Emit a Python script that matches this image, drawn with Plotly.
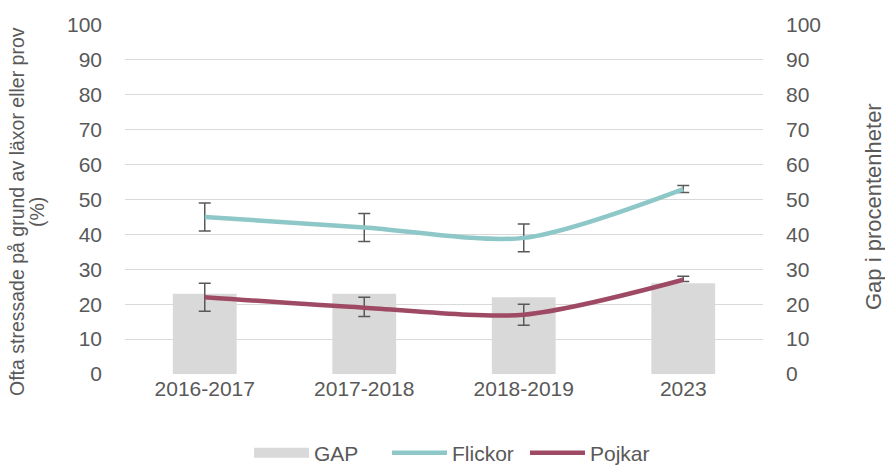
import plotly.graph_objects as go

categories = ["2016-2017", "2017-2018", "2018-2019", "2023"]
gap = [23, 23, 22, 26]
flickor = [45, 42, 39, 53]
flickor_lo = [41, 38, 35, 52]
flickor_hi = [49, 46, 43, 54]
pojkar = [22, 19, 17, 27]
pojkar_lo = [18, 16.5, 14, 26.5]
pojkar_hi = [26, 22, 20, 28]

FONT = "Liberation Sans"
TXT = "#595959"
GRID = "#D9D9D9"
W, H = 885, 466
L, R, T, B = 125, 122, 25, 92
PW, PH = W - L - R, H - T - B


def px(xpage):
    return (xpage - L) / PW


def py(ypage):
    return (H - B - ypage) / PH


fig = go.Figure()
fig.add_trace(go.Bar(
    x=categories, y=gap, name="GAP", yaxis="y", showlegend=False,
    marker=dict(color="#D9D9D9", line=dict(width=0)), width=0.4,
))
fig.add_trace(go.Scatter(
    x=[None], y=[None], name="GAP", mode="lines", yaxis="y2",
    line=dict(color="#D9D9D9", width=12),
))
fig.add_trace(go.Scatter(
    x=categories, y=flickor, name="Flickor", mode="lines", yaxis="y2",
    line=dict(color="#8EC7C7", width=4.5, shape="spline", smoothing=0.8),
    error_y=dict(type="data", symmetric=False,
                 array=[h - v for h, v in zip(flickor_hi, flickor)],
                 arrayminus=[v - l for l, v in zip(flickor_lo, flickor)],
                 color="#595959", thickness=1.5, width=6),
))
fig.add_trace(go.Scatter(
    x=categories, y=pojkar, name="Pojkar", mode="lines", yaxis="y2",
    line=dict(color="#9E4A64", width=4.5, shape="spline", smoothing=0.8),
    error_y=dict(type="data", symmetric=False,
                 array=[h - v for h, v in zip(pojkar_hi, pojkar)],
                 arrayminus=[v - l for l, v in zip(pojkar_lo, pojkar)],
                 color="#595959", thickness=1.5, width=6),
))

fig.update_layout(
    width=W, height=H,
    margin=dict(l=L, r=R, t=T, b=B, autoexpand=False),
    paper_bgcolor="white", plot_bgcolor="white",
    font=dict(family=FONT, size=21, color=TXT),
    showlegend=True,
    legend=dict(orientation="h", x=px(456), xanchor="center", y=py(453), yanchor="middle",
                font=dict(size=21, color=TXT), traceorder="normal", itemwidth=55,
                entrywidth=68, entrywidthmode="pixels",
                bgcolor="rgba(0,0,0,0)"),
    xaxis=dict(showgrid=False, showline=False, ticks="", automargin=False,
               tickfont=dict(size=21, color=TXT)),
    yaxis=dict(range=[0, 100], dtick=10, showgrid=True, gridcolor=GRID,
               gridwidth=1, zeroline=False, ticks="", ticklabelstandoff=22,
               automargin=False, tickfont=dict(size=21, color=TXT)),
    yaxis2=dict(range=[0, 100], dtick=10, overlaying="y", side="right",
                showgrid=False, zeroline=False, ticks="", ticklabelstandoff=22,
                automargin=False, tickfont=dict(size=21, color=TXT)),
    annotations=[
        dict(text="Ofta stressade på grund av läxor eller prov", textangle=-90,
             xref="paper", yref="paper", x=px(17), y=py(212),
             xanchor="center", yanchor="middle", showarrow=False,
             font=dict(size=19.5, color=TXT)),
        dict(text="(%)", textangle=-90,
             xref="paper", yref="paper", x=px(37), y=py(212),
             xanchor="center", yanchor="middle", showarrow=False,
             font=dict(size=19.5, color=TXT)),
        dict(text="Gap i procentenheter", textangle=-90,
             xref="paper", yref="paper", x=px(873), y=py(206),
             xanchor="center", yanchor="middle", showarrow=False,
             font=dict(size=22, color=TXT)),
    ],
)

fig.write_html(
    "out.html",
    config={"displayModeBar": False},
    post_script="document.body.style.margin='0';document.body.style.overflow='hidden';",
)
